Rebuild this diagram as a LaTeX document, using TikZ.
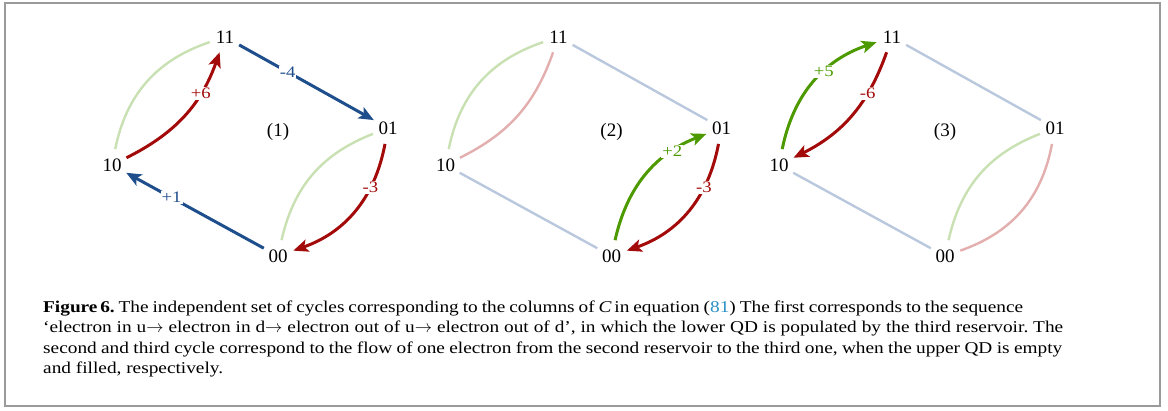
\documentclass[tikz,border=0pt]{standalone}
\usepackage{fontspec}
\setmainfont{Liberation Serif}
\newfontfamily\widefont{Liberation Serif}[FakeStretch=1.17,Ligatures=TeX]
\usetikzlibrary{arrows.meta}
\frenchspacing
\definecolor{dblue}{HTML}{1F4E8C}
\definecolor{dred}{HTML}{A30A0A}
\definecolor{dgreen}{HTML}{4C9A00}
\definecolor{lblue}{HTML}{BAC8DE}
\definecolor{lred}{HTML}{E3AEAE}
\definecolor{lgreen}{HTML}{C8E0B2}
\definecolor{reflink}{HTML}{2A8FC6}
\definecolor{frmgray}{HTML}{9A9A9A}
\begin{document}
\begin{tikzpicture}[x=1pt,y=-1pt,
  st/.style={circle,inner sep=0pt,minimum size=32pt,font=\fontsize{19}{19}\selectfont},
  num/.style={font=\fontsize{19}{19}\selectfont},
  dk/.style={line width=3pt},
  lt/.style={line width=2.4pt},
  tip/.style={-{Stealth[length=15pt,width=12.5pt,inset=3.5pt]}},
  lbl/.style={fill=white,inner sep=1pt,font=\widefont\fontsize{16}{16}\selectfont},
  capline/.style={anchor=base west,inner sep=0pt,font=\widefont\fontsize{16.5}{20}\selectfont\frenchspacing}]
\useasboundingbox (0,0) rectangle (1168,410);
\draw[frmgray,line width=1.5pt] (5,3) rectangle (1160,406);
% panel 1
\node[st] (a11) at (225,37) {11};
\node[st] (a01) at (388,128) {01};
\node[st] (a10) at (112,165) {10};
\node[st] (a00) at (278,256) {00};
\node[num] (a1) at (278,132) {(1)};
\draw[lt,lgreen] (a10) to[bend left=30] (a11);
\draw[lt,lgreen] (a01) to[bend right=28] (a00);
\draw[dk,dred,tip] (a10) to[bend right=22] node[lbl,pos=0.7,text=dred] {+6} (a11);
\draw[dk,dblue,tip] (a11) -- node[lbl,pos=0.36,text=dblue] {-4} (a01);
\draw[dk,dred,tip] (a01) to[bend left=30] node[lbl,pos=0.3,text=dred] {-3} (a00);
\draw[dk,dblue,tip] (a00) -- node[lbl,pos=0.67,text=dblue] {+1} (a10);
% panel 2
\node[st] (b11) at (558.5,37) {11};
\node[st] (b01) at (721.5,128) {01};
\node[st] (b10) at (445.5,165) {10};
\node[st] (b00) at (611.5,256) {00};
\node[num] (b2) at (611.5,132) {(2)};
\draw[lt,lgreen] (b10) to[bend left=30] (b11);
\draw[lt,lred] (b10) to[bend right=22] (b11);
\draw[lt,lblue] (b11) -- (b01);
\draw[lt,lblue] (b10) -- (b00);
\draw[dk,dgreen,tip] (b00) to[bend left=28] node[lbl,pos=0.75,text=dgreen] {+2} (b01);
\draw[dk,dred,tip] (b01) to[bend left=30] node[lbl,pos=0.3,text=dred] {-3} (b00);
% panel 3
\node[st] (c11) at (892,37) {11};
\node[st] (c01) at (1055,128) {01};
\node[st] (c10) at (779,165) {10};
\node[st] (c00) at (945,256) {00};
\node[num] (c3) at (945,132) {(3)};
\draw[lt,lblue] (c11) -- (c01);
\draw[lt,lblue] (c10) -- (c00);
\draw[lt,lgreen] (c01) to[bend right=28] (c00);
\draw[lt,lred] (c01) to[bend left=30] (c00);
\draw[dk,dgreen,tip] (c10) to[bend left=30] node[lbl,pos=0.6,text=dgreen] {+5} (c11);
\draw[dk,dred,tip] (c11) to[bend left=22] node[lbl,pos=0.3,text=dred] {-6} (c10);
% caption
\node[capline] (l1) at (43,312) {\hbox to 980pt{\textbf{Figure\,6.} The independent set of cycles corresponding to the columns of \textit{C}\,in equation (\textcolor{reflink}{81}) The first corresponds to the sequence}};
\node[capline] (l2) at (43,332.5) {\hbox to 1020pt{`electron in u$\rightarrow$ electron in d$\rightarrow$ electron out of u$\rightarrow$ electron out of d', in which the lower QD is populated by the third reservoir. The}};
\node[capline] (l3) at (43,353) {\hbox to 1019pt{second and third cycle correspond to the flow of one electron from the second reservoir to the third one, when the upper QD is empty}};
\node[capline] (l4) at (43,373.5) {and filled, respectively.};
\end{tikzpicture}
\end{document}
